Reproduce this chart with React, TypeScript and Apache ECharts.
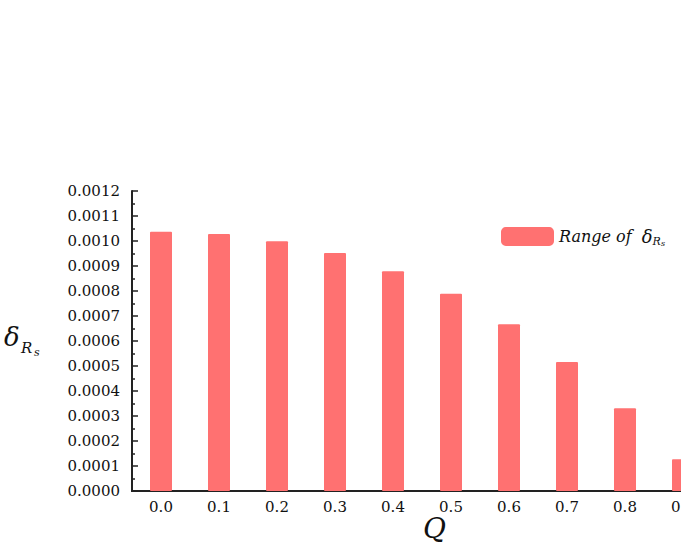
import React, { useEffect, useRef } from "react";
import * as echarts from "echarts";

const categories = ["0.0", "0.1", "0.2", "0.3", "0.4", "0.5", "0.6", "0.7", "0.8", "0.9"];
const rangeValues = [0.001037, 0.001028, 0.000999, 0.000952, 0.000879, 0.000789, 0.000667, 0.000516, 0.000331, 0.000127];
const seriesName = "Range of δRs";

export default function App() {
  const ref = useRef<HTMLDivElement>(null);
  useEffect(() => {
    document.body.style.margin = "0";
    const chart = echarts.init(ref.current!, null, { renderer: "svg" });
    const axisColor = "#222";
    const serif = "DejaVu Serif";
    const tickLabel = { fontFamily: serif, fontSize: 15, color: "#111" };
    chart.setOption({
      animation: false,
      backgroundColor: "#fff",
      grid: { left: 132, top: 191, width: 580, height: 300, outerBoundsMode: "none", containLabel: false },
      legend: {
        left: 496,
        top: 222,
        icon: "roundRect",
        itemWidth: 53,
        itemHeight: 19,
        itemGap: 4,
        data: [seriesName],
        formatter: () => "{a|Range of  }{d|δ}{r|R}{s|s}",
        textStyle: {
          fontFamily: serif,
          color: "#111",
          rich: {
            a: { fontFamily: serif, fontStyle: "italic", fontSize: 16, color: "#111" },
            d: { fontFamily: serif, fontStyle: "italic", fontSize: 18, color: "#111" },
            r: { fontFamily: serif, fontStyle: "italic", fontSize: 11, color: "#111", padding: [10, 0, 0, 0] },
            s: { fontFamily: serif, fontStyle: "italic", fontSize: 8, color: "#111", padding: [14, 0, 0, 0] },
          },
        },
      },
      xAxis: [
        {
          type: "category",
          data: categories,
          position: "bottom",
          boundaryGap: true,
          axisLine: { lineStyle: { color: axisColor, width: 2 } },
          axisTick: { alignWithLabel: true, inside: true, length: 5, lineStyle: { color: axisColor, width: 1.5 } },
          axisLabel: { ...tickLabel, margin: 8 },
          splitLine: { show: false },
        },
        {
          type: "category",
          data: categories,
          position: "top",
          boundaryGap: true,
          axisLine: { lineStyle: { color: axisColor, width: 2 } },
          axisTick: { alignWithLabel: true, inside: true, length: 5, lineStyle: { color: axisColor, width: 1.5 } },
          axisLabel: { show: false },
          splitLine: { show: false },
        },
      ],
      yAxis: [
        {
          type: "value",
          min: 0,
          max: 0.0012,
          interval: 0.0001,
          axisLine: { show: true, lineStyle: { color: axisColor, width: 2 } },
          axisTick: { show: true, inside: true, length: 6, lineStyle: { color: axisColor, width: 1.5 } },
          minorTick: { show: true, splitNumber: 2, length: 3, lineStyle: { color: axisColor, width: 1.5 } },
          axisLabel: { ...tickLabel, margin: 12, formatter: (v: number) => v.toFixed(4) },
          splitLine: { show: false },
        },
        {
          type: "value",
          position: "right",
          min: 0,
          max: 0.0012,
          interval: 0.0001,
          axisLine: { show: true, lineStyle: { color: axisColor, width: 2 } },
          axisTick: { show: true, inside: true, length: 6 },
          axisLabel: { show: false },
          splitLine: { show: false },
        },
      ],
      series: [
        {
          name: seriesName,
          type: "bar",
          data: rangeValues,
          barWidth: 22,
          itemStyle: { color: "#FF7171", borderRadius: 1 },
        },
      ],
      graphic: [
        {
          type: "text",
          left: 423,
          top: 514,
          style: { text: "Q", fontFamily: serif, fontStyle: "italic", fontSize: 28, fill: "#111" },
        },
        {
          type: "text",
          left: 4,
          top: 324,
          style: { text: "δ", fontFamily: serif, fontStyle: "italic", fontSize: 26, fill: "#111" },
        },
        {
          type: "text",
          left: 21,
          top: 340,
          style: { text: "R", fontFamily: serif, fontStyle: "italic", fontSize: 15, fill: "#111" },
        },
        {
          type: "text",
          left: 34,
          top: 347,
          style: { text: "s", fontFamily: serif, fontStyle: "italic", fontSize: 11, fill: "#111" },
        },
      ],
    });
    return () => chart.dispose();
  }, []);
  return <div ref={ref} style={{ width: 681, height: 545 }} />;
}
